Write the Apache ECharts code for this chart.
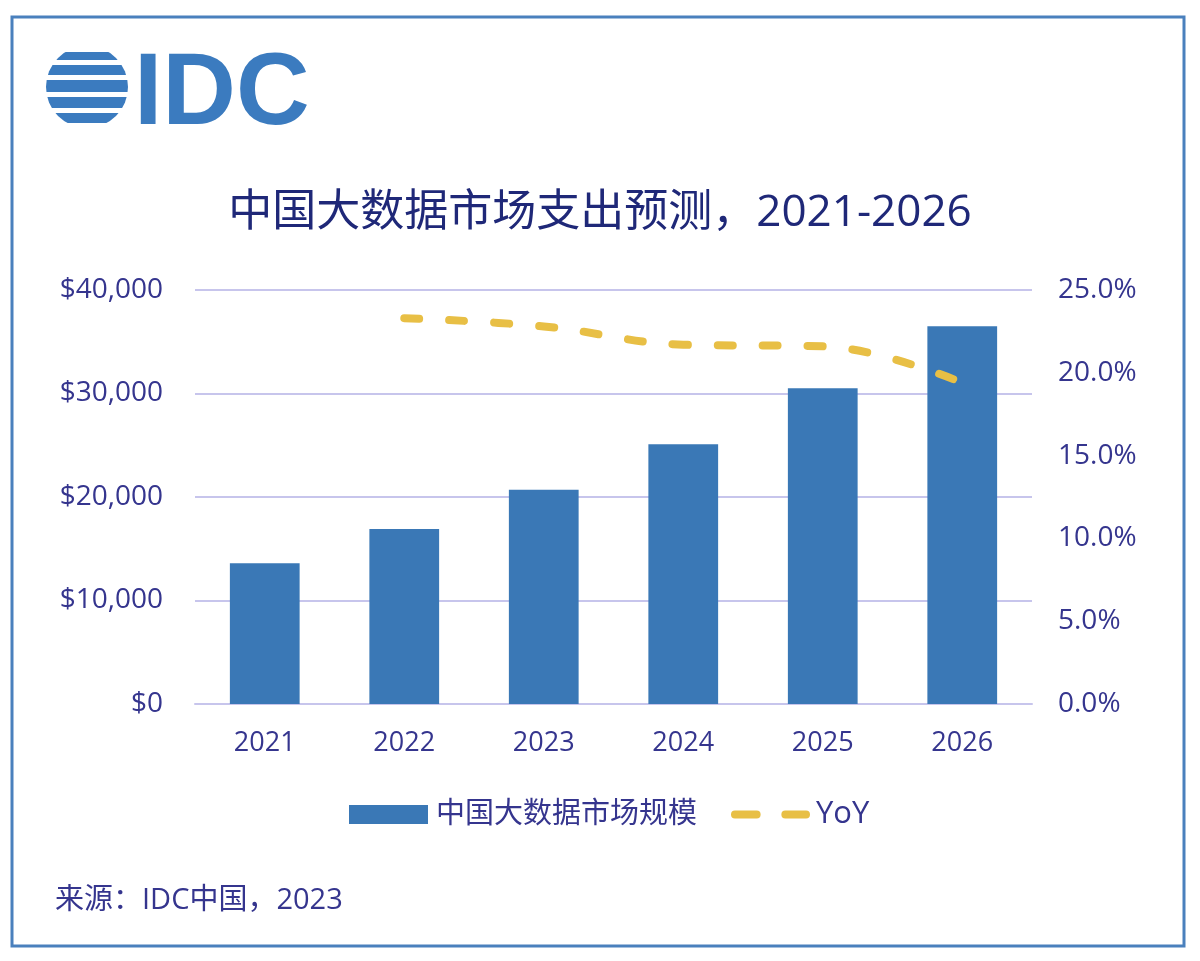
<!DOCTYPE html>
<html>
<head>
<meta charset="utf-8">
<script src="https://cdn.jsdelivr.net/npm/echarts@6/dist/echarts.min.js"></script>
<style>
html,body{margin:0;padding:0;background:#fff;}
#c{width:1200px;height:961px;}
</style>
</head>
<body>
<div id="c"></div>
<script>
const years = ['2021', '2022', '2023', '2024', '2025', '2026'];
const marketSize = [13600, 16900, 20700, 25100, 30500, 36500];
const yoyPct = [null, 23.3, 22.8, 21.7, 21.6, 19.4];
const leftTicks = [0, 10000, 20000, 30000, 40000];
const rightTicks = [0, 5, 10, 15, 20, 25];
const titleText = '中国大数据市场支出预测，2021-2026';
const sourceText = '来源：IDC中国，2023';
const seriesNames = ['中国大数据市场规模', 'YoY'];

const FONT = '"Open Sans","Noto Sans CJK SC",sans-serif';
const TXT = '#35358e';
const BLUE = '#3a78b6';
const GOLD = '#e8bf45';
const LOGO = '#3b7bbf';

const chart = echarts.init(document.getElementById('c'), null, {renderer: 'canvas'});

// white gaps cutting the logo globe into stripes
const gaps = [[40, 60, 5], [40, 75, 5], [40, 92, 5], [40, 108, 5]];

// two rounded dashes, with invisible corner specks to fix the icon box at 80x19
const dashIcon = 'path://M0,0 L0.01,0 L0,0.01 Z M4,5.5 H26 A4,4 0 0 1 26,13.5 H4 A4,4 0 0 1 4,5.5 Z M55,5.5 H76 A4,4 0 0 1 76,13.5 H55 A4,4 0 0 1 55,5.5 Z M80,19 L79.99,19 L80,18.99 Z';

chart.setOption({
  backgroundColor: '#fff',
  animation: false,
  textStyle: {fontFamily: FONT},
  title: {
    text: titleText,
    left: 'center',
    top: 186,
    textStyle: {fontFamily: FONT, fontSize: 44, fontWeight: 'normal', color: '#1f2878'}
  },
  legend: {
    top: 794,
    left: 344,
    itemWidth: 79,
    itemHeight: 19,
    itemGap: 34,
    textStyle: {fontFamily: FONT, fontSize: 29, color: TXT, padding: [0, 0, 0, 3]},
    data: [
      {name: seriesNames[0], icon: 'rect'},
      {name: seriesNames[1], icon: dashIcon, itemStyle: {color: GOLD},
       textStyle: {fontFamily: FONT, fontSize: 31, color: TXT, padding: [0, 0, 0, 1]}}
    ]
  },
  grid: {left: 195, right: 168, top: 290, bottom: 257},
  xAxis: {
    type: 'category',
    data: years,
    axisTick: {show: false},
    axisLine: {show: true, lineStyle: {color: '#c7c5ec', width: 2}},
    axisLabel: {fontFamily: FONT, fontSize: 27, color: TXT, margin: 26}
  },
  yAxis: [
    {
      type: 'value',
      min: leftTicks[0],
      max: leftTicks[leftTicks.length - 1],
      interval: 10000,
      axisLine: {show: false},
      axisTick: {show: false},
      splitLine: {lineStyle: {color: '#c7c5ec', width: 2}},
      axisLabel: {
        fontFamily: FONT, fontSize: 28, color: TXT, margin: 32,
        formatter: v => '$' + v.toLocaleString('en-US')
      }
    },
    {
      type: 'value',
      min: rightTicks[0],
      max: rightTicks[rightTicks.length - 1],
      interval: 5,
      axisLine: {show: false},
      axisTick: {show: false},
      splitLine: {show: false},
      axisLabel: {
        fontFamily: FONT, fontSize: 28, color: TXT, margin: 26,
        formatter: v => v.toFixed(1) + '%'
      }
    }
  ],
  series: [
    {
      name: seriesNames[0],
      type: 'bar',
      data: marketSize,
      barWidth: '50%',
      itemStyle: {color: BLUE}
    },
    {
      name: seriesNames[1],
      type: 'line',
      yAxisIndex: 1,
      data: yoyPct,
      smooth: 0.4,
      symbol: 'none',
      itemStyle: {color: GOLD},
      lineStyle: {color: GOLD, width: 8, type: [15, 30], cap: 'round'}
    }
  ],
  graphic: [
    {type: 'rect', shape: {x: 12, y: 17, width: 1172, height: 929}, style: {fill: 'none', stroke: '#4a80bd', lineWidth: 3}, silent: true},
    {type: 'circle', shape: {cx: 87, cy: 87, r: 41}, style: {fill: LOGO}, silent: true, z: 1},
    {type: 'rect', shape: {x: 40, y: 40, width: 95, height: 12}, style: {fill: '#fff'}, silent: true, z: 2},
    {type: 'rect', shape: {x: 40, y: 123, width: 95, height: 12}, style: {fill: '#fff'}, silent: true, z: 2},
    ...gaps.map(g => ({type: 'rect', shape: {x: g[0], y: g[1], width: 95, height: g[2]}, style: {fill: '#fff'}, silent: true, z: 2})),
    {type: 'text', left: 134, top: 45, style: {text: 'IDC', font: 'bold 102px "Liberation Sans", Arial, sans-serif', fill: LOGO}, silent: true, z: 3},
    {type: 'text', left: 55, top: 886, style: {text: sourceText, font: '29px ' + FONT, fill: TXT}, silent: true}
  ]
});
</script>
</body>
</html>
